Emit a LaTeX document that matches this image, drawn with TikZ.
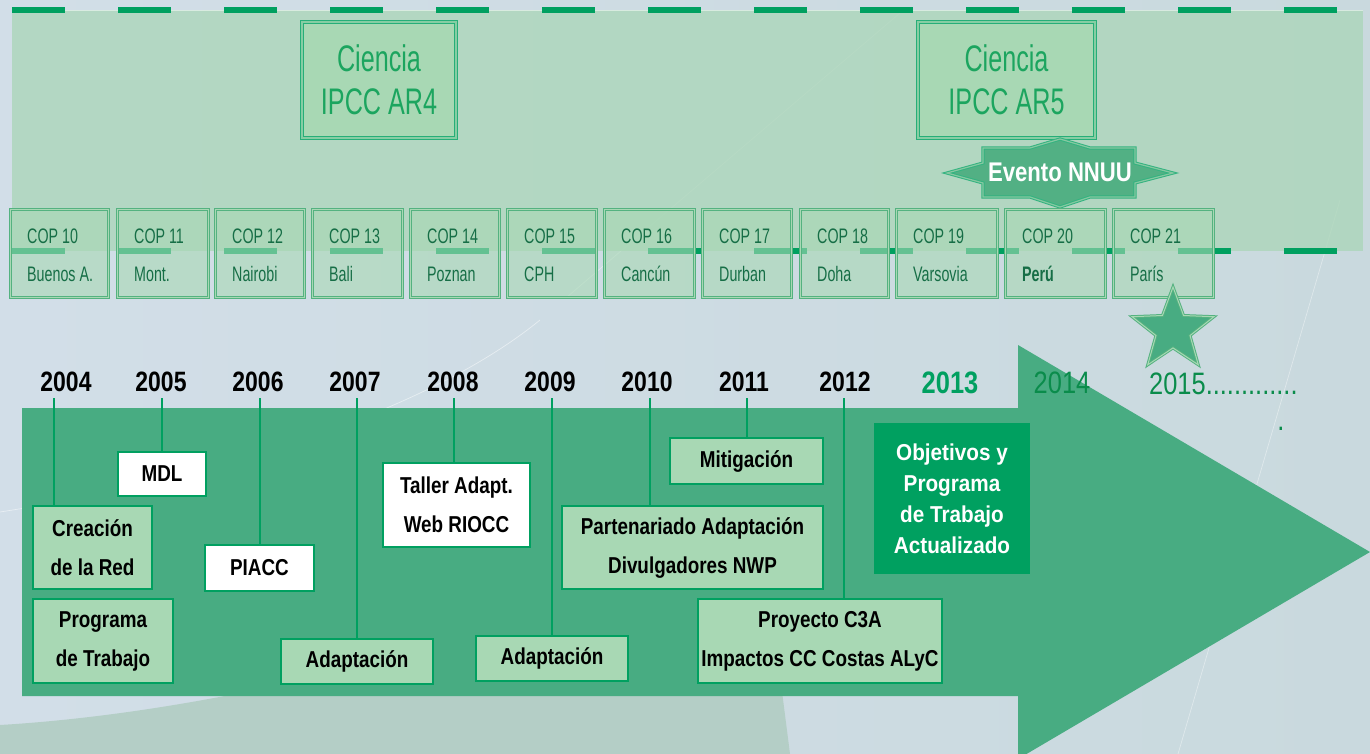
\documentclass[tikz,border=0pt]{standalone}
\usepackage{fontspec}
\setmainfont{Liberation Sans}[FakeStretch=0.82]
\newfontfamily\finafont{Liberation Sans}[FakeStretch=0.68]
\newfontfamily\anchafont{Liberation Sans}[FakeStretch=0.9]
\usetikzlibrary{shapes.geometric}

\definecolor{verde}{RGB}{0,160,96}
\definecolor{verdeoscuro}{RGB}{10,140,75}
\definecolor{verdeclaro}{RGB}{168,216,180}
\definecolor{verdeflecha}{RGB}{72,172,130}
\definecolor{verdepanel}{RGB}{172,214,186}
\definecolor{verdecop}{RGB}{84,178,128}
\definecolor{verdeevento}{RGB}{82,176,132}
\definecolor{textocop}{RGB}{22,110,70}
\definecolor{textociencia}{RGB}{28,165,95}
\definecolor{fondoazul}{RGB}{210,222,232}
\definecolor{fondoverde}{RGB}{180,206,198}

\tikzset{
  caja/.style={draw=verde, line width=2.2pt, fill=verdeclaro, inner sep=0pt, align=center,
    font=\fontsize{23}{39}\selectfont\bfseries},
  cajablanca/.style={caja, fill=white},
  anio/.style={inner sep=0pt, font=\fontsize{28}{30}\selectfont\bfseries},
  linea/.style={verde, line width=2.6pt},
  guion/.style={verde, line width=6.5pt},
  copcaja/.style={draw=verdecop, line width=1pt, double=verdeclaro, double distance=1.6pt,
    fill=verdeclaro, fill opacity=0.6, inner sep=0pt, minimum height=88pt, anchor=north west},
  coptexto/.style={text=textocop, inner sep=0pt, anchor=base west,
    font=\finafont\fontsize{21}{24}\selectfont},
  ciencia/.style={draw=verde!85!white, line width=1.3pt, double=verdeclaro!80!verde,
    double distance=1.3pt, fill=verdeclaro, text=textociencia, align=center, inner sep=0pt,
    font=\finafont\fontsize{37}{43}\selectfont},
}

\begin{document}
\begin{tikzpicture}[x=1pt, y=-1pt]
    \useasboundingbox (0,0) rectangle (1370,754);

    % Fondo
    \shade[left color=fondoazul, right color=fondoazul!70!fondoverde] (0,0) rectangle (1370,754);
    \fill[fondoverde] (0,754) -- (0,725) .. controls (220,712) and (520,640) .. (760,520) -- (790,754) -- cycle;
    \draw[white, opacity=.5, line width=.7pt] (0,512) .. controls (220,478) and (430,410) .. (540,320);
    \draw[white, opacity=.4, line width=.7pt] (567,297) -- (900,13);
    \draw[white, opacity=.4, line width=.7pt] (1178,754) -- (1340,200);

    % Panel superior
    \fill[verdepanel, opacity=.8] (12,10) rectangle (1363,251);
    \draw[white, opacity=.5, line width=.8pt] (12,10) -- (1363,10);

    % Guiones
    \foreach \i in {0,...,12} {
        \draw[guion] (12+106*\i,10) -- (65+106*\i,10);
        \draw[guion] (12+106*\i,251) -- (65+106*\i,251);
    }

    % Ciencia IPCC
    \node[ciencia, minimum width=154pt, minimum height=116pt] (ar4) at (379,80) {Ciencia\\IPCC AR4};
    \node[ciencia, minimum width=177pt, minimum height=116pt] (ar5) at (1006.5,80) {Ciencia\\IPCC AR5};

    % Evento NNUU
    \draw[fill=verdeevento, draw=verde!80!white, line width=1pt, double=verdeclaro!60!verdeevento, double distance=1.2pt]
        (947,173) -- (983,163) -- (983,148) -- (1030,148) -- (1060,139) -- (1090,148) -- (1135,148) -- (1135,163)
        -- (1173,173) -- (1135,183) -- (1135,197) -- (1090,197) -- (1060,207) -- (1030,197) -- (983,197) -- (983,183) -- cycle;
    \node[text=white, inner sep=0pt, font=\fontsize{27}{30}\selectfont\bfseries] (evento) at (1060,172) {Evento NNUU};

    % COP
    \foreach \n/\xa/\xb/\ciudad in {10/10/108/Buenos A., 11/117/208/Mont., 12/215/304/Nairobi, 13/312/402/Bali,
        14/410/499/Poznan, 15/507/596/CPH, 16/604/694/Cancún, 17/702/791/Durban, 18/800/888/Doha,
        19/896/997/Varsovia, 20/1005/1105/\textbf{Perú}, 21/1113/1213/París} {
        \node[copcaja, minimum width={(\xb-\xa)*1pt}] (cop\n) at (\xa,209) {};
        \node[coptexto] (num\n) at (\xa+17,243) {COP \n};
        \node[coptexto] (ciudad\n) at (\xa+17,281) {\ciudad};
    }

    % Estrella
    \node[star, star points=5, star point ratio=2.4, minimum size=86pt, inner sep=0pt, fill=verdeflecha,
        draw=verdecop, line width=1pt, double=verdeclaro, double distance=1pt] (estrella) at (1173,330) {};

    % Flecha
    \fill[verdeflecha] (22,408) -- (1018,408) -- (1018,345) -- (1370,552) -- (1018,759) -- (1018,696) -- (22,696) -- cycle;

    % Años
    \foreach \a/\x in {2004/66, 2005/161, 2006/258, 2007/355, 2008/453, 2009/550, 2010/647, 2011/744, 2012/845}
        \node[anio] (a\a) at (\x,382) {\a};
    \node[anio, text=verde, font=\fontsize{31}{33}\selectfont\bfseries] (a2013) at (950,383) {2013};
    \node[anio, text=verdeoscuro, font=\fontsize{31}{33}\selectfont] (a2014) at (1062,383) {2014};
    \node[anio, text=verdeoscuro, font=\fontsize{31}{33}\selectfont, anchor=base west] (a2015) at (1149,394) {2015.............};
    \node[anio, text=verdeoscuro, font=\fontsize{31}{33}\selectfont] (punto) at (1281,429) {.};

    % Cajas
    \node[caja, minimum width=119pt, minimum height=83pt] (creacion) at (92.5,547.5) {Creación\\de la Red};
    \node[caja, minimum width=140pt, minimum height=84pt] (programa) at (103,641) {Programa\\de Trabajo};
    \node[cajablanca, minimum width=88pt, minimum height=44pt] (mdl) at (162,474) {MDL};
    \node[cajablanca, minimum width=109pt, minimum height=46pt] (piacc) at (259.5,568) {PIACC};
    \node[caja, minimum width=152pt, minimum height=45pt] (adapt1) at (357,661.5) {Adaptación};
    \node[cajablanca, minimum width=147pt, minimum height=84pt] (taller) at (456.5,505) {Taller Adapt.\\Web RIOCC};
    \node[caja, minimum width=152pt, minimum height=45pt] (adapt2) at (552,658.5) {Adaptación};
    \node[caja, minimum width=261pt, minimum height=83pt] (partenariado) at (692.5,547.5) {Partenariado Adaptación\\Divulgadores NWP};
    \node[caja, minimum width=153pt, minimum height=46pt] (mitigacion) at (746.5,461) {Mitigación};
    \node[caja, minimum width=244pt, minimum height=84pt] (proyecto) at (820,641) {Proyecto C3A\\Impactos CC Costas ALyC};
    \node[caja, fill=verde, draw=none, text=white, minimum width=156pt, minimum height=151pt,
        font=\anchafont\fontsize{23}{31}\selectfont\bfseries] (objetivos) at (952,498.5)
        {Objetivos y\\Programa\\de Trabajo\\Actualizado};

    % Líneas
    \foreach \a/\x/\caja in {2004/54/creacion, 2005/162/mdl, 2006/260/piacc, 2007/357/adapt1, 2008/454/taller,
        2009/552/adapt2, 2010/650/partenariado, 2011/747/mitigacion, 2012/844/proyecto} {
        \coordinate (l\a) at (\x,398);
        \draw[linea] (l\a) -- (l\a |- \caja.north);
    }
\end{tikzpicture}
\end{document}
